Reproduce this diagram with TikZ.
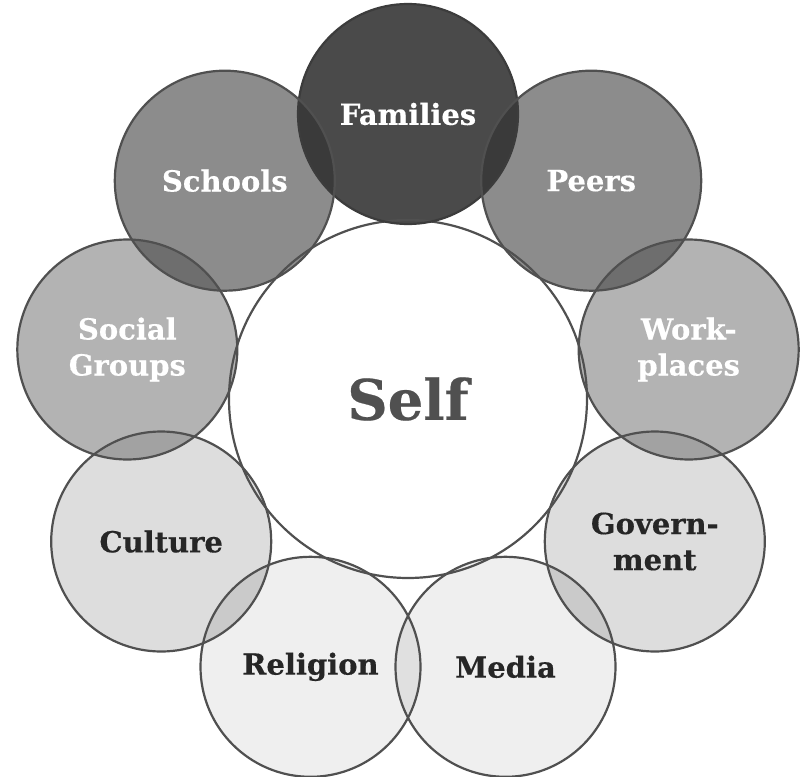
\documentclass[tikz,border=0pt]{standalone}
\usepackage{fontspec}
\setmainfont{DejaVu Serif}
\newfontfamily\heavyfont{DejaVu Serif Bold}[FakeBold=0.4]
\definecolor{cfam}{HTML}{4A4A4A}
\definecolor{csec}{HTML}{8C8C8C}
\definecolor{cthr}{HTML}{B3B3B3}
\definecolor{cfou}{HTML}{DDDDDD}
\definecolor{cfiv}{HTML}{EFEFEF}
\definecolor{lone}{HTML}{3A3A3A}
\definecolor{ltwo}{HTML}{6E6E6E}
\definecolor{lthr}{HTML}{A2A2A2}
\definecolor{lfou}{HTML}{CACACA}
\definecolor{lfiv}{HTML}{E0E0E0}
\definecolor{edge}{HTML}{505050}
\definecolor{famedge}{HTML}{3C3C3C}
\definecolor{darktext}{HTML}{262626}
\tikzset{
  bubble/.style={circle, draw=edge, line width=2.2pt, minimum size=220pt, inner sep=0pt,
    align=center, font=\heavyfont\fontsize{29}{36}\selectfont},
  light/.style={text=white},
  dark/.style={text=darktext},
  selfnode/.style={circle, draw=edge, line width=2.2pt, minimum size=358pt, inner sep=0pt,
    text=edge, font=\heavyfont\fontsize{56}{60}\selectfont}
}
\begin{document}
\begin{tikzpicture}[x=1pt,y=-1pt]
\fill[white] (0,0) rectangle (800,776);
\useasboundingbox (0,0) rectangle (800,776);
% centres
\coordinate (pself) at (408,399);
\coordinate (pfam) at (408,114);
\coordinate (ppee) at (591.2,180.7);
\coordinate (pwor) at (688.7,349.5);
\coordinate (pgov) at (654.8,541.5);
\coordinate (pmed) at (505.5,666.8);
\coordinate (prel) at (310.5,666.8);
\coordinate (pcul) at (161.2,541.5);
\coordinate (psoc) at (127.3,349.5);
\coordinate (psch) at (224.8,180.7);
% self fill
\fill[white] (pself) circle (179pt);
% ring fills
\fill[cfam] (pfam) circle (110pt);
\fill[csec] (ppee) circle (110pt);
\fill[csec] (psch) circle (110pt);
\fill[cthr] (pwor) circle (110pt);
\fill[cthr] (psoc) circle (110pt);
\fill[cfou] (pgov) circle (110pt);
\fill[cfou] (pcul) circle (110pt);
\fill[cfiv] (pmed) circle (110pt);
\fill[cfiv] (prel) circle (110pt);
% lens overlaps
\begin{scope}\clip (pfam) circle (110pt); \fill[lone] (psch) circle (110pt); \fill[lone] (ppee) circle (110pt);\end{scope}
\begin{scope}\clip (psch) circle (110pt); \fill[ltwo] (psoc) circle (110pt);\end{scope}
\begin{scope}\clip (ppee) circle (110pt); \fill[ltwo] (pwor) circle (110pt);\end{scope}
\begin{scope}\clip (psoc) circle (110pt); \fill[lthr] (pcul) circle (110pt);\end{scope}
\begin{scope}\clip (pwor) circle (110pt); \fill[lthr] (pgov) circle (110pt);\end{scope}
\begin{scope}\clip (pcul) circle (110pt); \fill[lfou] (prel) circle (110pt);\end{scope}
\begin{scope}\clip (pgov) circle (110pt); \fill[lfou] (pmed) circle (110pt);\end{scope}
\begin{scope}\clip (prel) circle (110pt); \fill[lfiv] (pmed) circle (110pt);\end{scope}
% outlines and labels
\node[selfnode] (self) at (pself) {Self};
\node[bubble, light, draw=famedge] (families) at (pfam) {Families};
\node[bubble, light] (peers) at (ppee) {Peers};
\node[bubble, light] (workplaces) at (pwor) {Work-\\places};
\node[bubble, dark] (government) at (pgov) {Govern-\\ment};
\node[bubble, dark] (media) at (pmed) {Media};
\node[bubble, dark] (religion) at (prel) {Religion};
\node[bubble, dark] (culture) at (pcul) {Culture};
\node[bubble, light] (social) at (psoc) {Social\\Groups};
\node[bubble, light] (schools) at (psch) {Schools};
\end{tikzpicture}
\end{document}
